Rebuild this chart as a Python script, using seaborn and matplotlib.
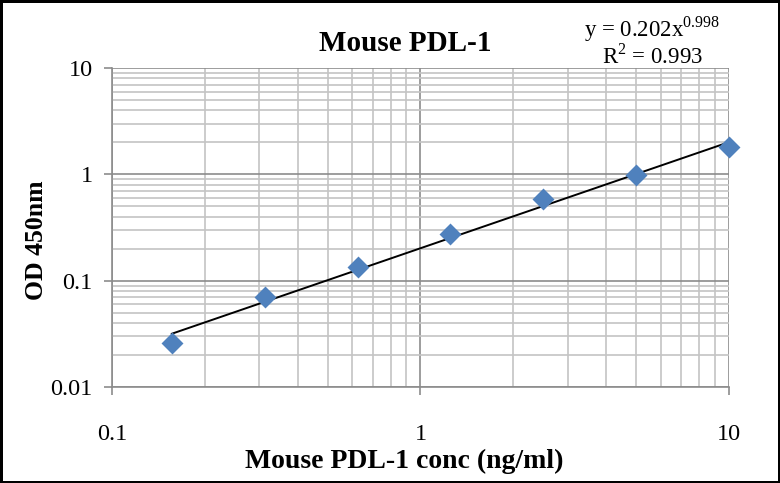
import numpy as np
import pandas as pd
import matplotlib
matplotlib.use("Agg")
import matplotlib.pyplot as plt
import seaborn as sns
from matplotlib.ticker import LogLocator, NullFormatter, FixedLocator, FixedFormatter

# data
conc = [0.156, 0.3125, 0.625, 1.25, 2.5, 5, 10]
od450 = [0.026, 0.070, 0.135, 0.272, 0.585, 0.985, 1.82]

# power trendline shown on the chart
fit_a = 0.202
fit_b = 0.998
fit_r2 = 0.993

x_ticks = [0.1, 1, 10]
x_ticklabels = ["0.1", "1", "10"]
y_ticks = [0.01, 0.1, 1, 10]
y_ticklabels = ["0.01", "0.1", "1", "10"]

df = pd.DataFrame({"conc": conc, "od": od450})
df["fit"] = fit_a * df["conc"] ** fit_b

sns.set_theme(style="white")
plt.rcParams["font.family"] = ["Liberation Serif", "DejaVu Serif"]
plt.rcParams["mathtext.fontset"] = "custom"
plt.rcParams["mathtext.rm"] = "Liberation Serif"
plt.rcParams["text.color"] = "black"
plt.rcParams["axes.labelcolor"] = "black"

fig = plt.figure(figsize=(7.8, 4.83), dpi=100, linewidth=2.5, edgecolor="black")
ax = fig.add_axes([0.1436, 0.1988, 0.7910, 0.6602])

ax.set_xscale("log")
ax.set_yscale("log")
ax.set_xlim(0.1, 10)
ax.set_ylim(0.01, 10)

# grid: light minor, darker major
ax.xaxis.set_minor_locator(LogLocator(base=10, subs=np.arange(2, 10)))
ax.yaxis.set_minor_locator(LogLocator(base=10, subs=np.arange(2, 10)))
ax.xaxis.set_minor_formatter(NullFormatter())
ax.yaxis.set_minor_formatter(NullFormatter())
ax.grid(which="minor", color="#c4c4c4", linewidth=1.2)
ax.grid(which="major", color="#8c8c8c", linewidth=1.2)
ax.set_axisbelow(True)

sns.lineplot(data=df, x="conc", y="fit", color="black", linewidth=1.4, ax=ax, zorder=3)
sns.scatterplot(data=df, x="conc", y="od", marker="D", s=125, color="#4F81BD",
                edgecolor="#4F81BD", linewidth=0, ax=ax, zorder=4, clip_on=False)

ax.xaxis.set_major_locator(FixedLocator(x_ticks))
ax.xaxis.set_major_formatter(FixedFormatter(x_ticklabels))
ax.yaxis.set_major_locator(FixedLocator(y_ticks))
ax.yaxis.set_major_formatter(FixedFormatter(y_ticklabels))
ax.tick_params(which="major", direction="out", length=6, width=1.2, color="#8c8c8c",
               labelsize=17.5, labelcolor="black", bottom=True, left=True)
ax.tick_params(which="minor", length=0)
ax.tick_params(axis="x", pad=21)
ax.tick_params(axis="y", pad=8)

for side in ["top", "right"]:
    ax.spines[side].set_visible(False)
for side in ["left", "bottom"]:
    ax.spines[side].set_color("#8c8c8c")
    ax.spines[side].set_linewidth(1.2)

ax.set_xlabel("Mouse PDL-1 conc (ng/ml)", fontsize=20, fontweight="bold")
ax.set_ylabel("OD 450nm", fontsize=18.5, fontweight="bold")
ax.xaxis.label.set_va("center")
ax.yaxis.label.set_va("center")
ax.xaxis.set_label_coords(0.473, -0.235)
ax.yaxis.set_label_coords(-0.1216, 0.46)
fig.text(0.52, 0.91, "Mouse PDL-1", ha="center", va="center", fontsize=21, fontweight="bold")

# trendline equation, stacked tightly like the original
fig.text(0.836, 0.9234, "y = %.3fx$^{%.3f}$" % (fit_a, fit_b), ha="center", va="baseline", fontsize=16.5)
fig.text(0.836, 0.8675, "R$^{2}$ = %.3f" % fit_r2, ha="center", va="baseline", fontsize=16.5)

fig.savefig("out.png", dpi=100)
